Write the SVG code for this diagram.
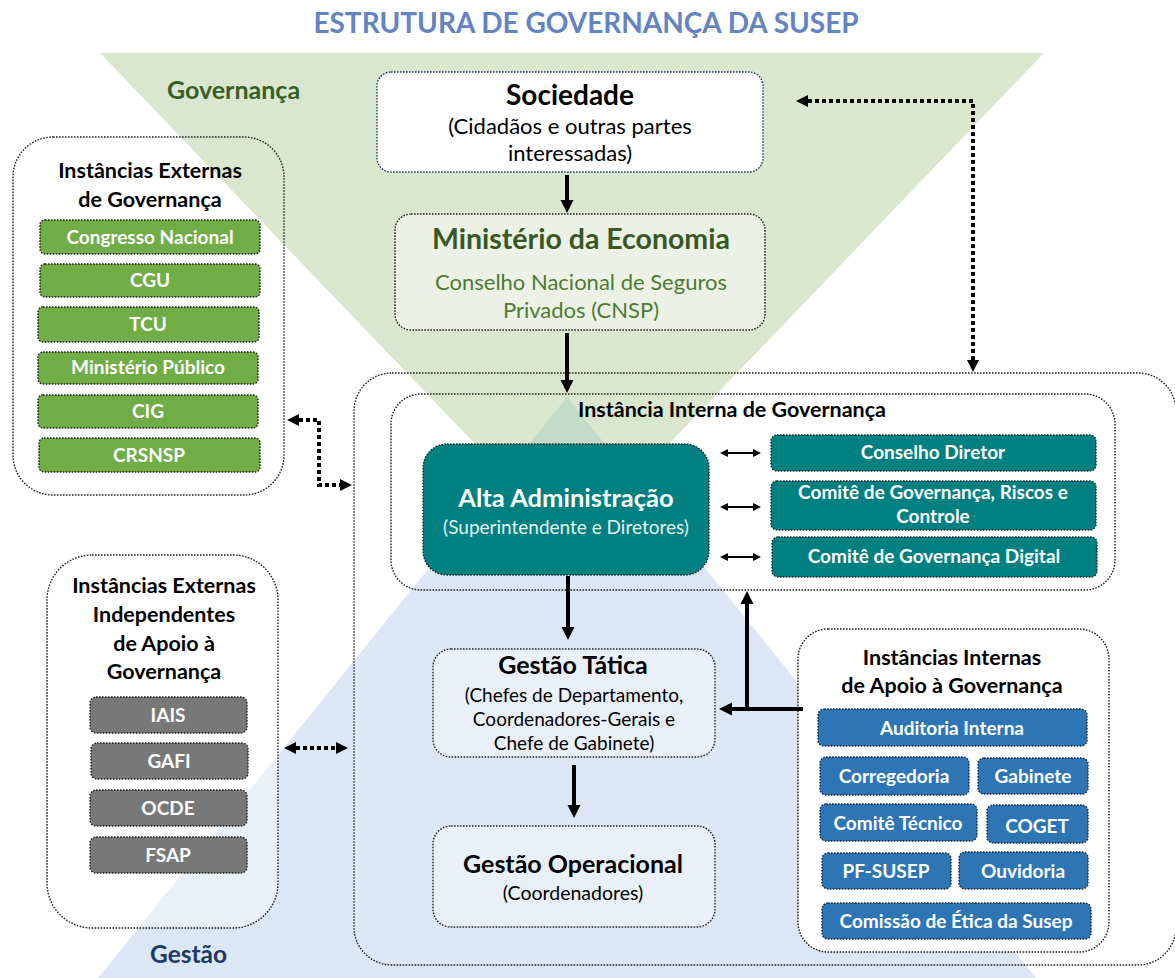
<svg xmlns="http://www.w3.org/2000/svg" width="1175" height="978" viewBox="0 0 1175 978">
<style>
  text { font-family: Lato, "Open Sans", "Liberation Sans", sans-serif; }
  .dot { fill: none; stroke: #222; stroke-width: 1.4; stroke-dasharray: 1.6 1.4; }
  .b { font-weight: bold; }
  .c { text-anchor: middle; }
  .w { fill: #ffffff; }
  .green { fill: #70ad47; stroke: #222; stroke-width: 1.4; stroke-dasharray: 1.6 1.4; }
  .gray { fill: #787878; stroke: #222; stroke-width: 1.4; stroke-dasharray: 1.6 1.4; }
  .blue { fill: #2e75b6; stroke: #1a2a40; stroke-width: 1.4; stroke-dasharray: 1.6 1.4; }
  .teal { fill: #008080; stroke: #1a2a2a; stroke-width: 1.4; stroke-dasharray: 1.6 1.4; }
  .thick { fill: none; stroke: #000; stroke-width: 4; }
  .thin { fill: none; stroke: #000; stroke-width: 2; }
  .dash { fill: none; stroke: #000; stroke-width: 4; stroke-dasharray: 4 3; }
  .h { font-size: 21.5px; font-weight: bold; fill: #000; text-anchor: middle; }
  .lbl { font-size: 19px; font-weight: bold; fill: #fff; text-anchor: middle; }
</style>
<defs>
  <marker id="aThick" viewBox="0 0 10 10" refX="0" refY="5" markerWidth="13" markerHeight="14" markerUnits="userSpaceOnUse" orient="auto-start-reverse">
    <path d="M0,0 L10,5 L0,10 z" fill="#000"/>
  </marker>
  <marker id="aThin" viewBox="0 0 10 10" refX="0" refY="5" markerWidth="9" markerHeight="8" markerUnits="userSpaceOnUse" orient="auto-start-reverse">
    <path d="M0,0 L10,5 L0,10 z" fill="#000"/>
  </marker>
  <marker id="aDash" viewBox="0 0 10 10" refX="0" refY="5" markerWidth="12" markerHeight="12" markerUnits="userSpaceOnUse" orient="auto-start-reverse">
    <path d="M0,0 L10,5 L0,10 z" fill="#000"/>
  </marker>
</defs>

<rect x="0" y="0" width="1175" height="978" fill="#ffffff"/>

<!-- background triangles -->
<g id="background">
  <polygon points="100,53 1044,53 572,545" fill="#d8e7cd"/>
  <polygon points="567,397 98,978 1036,978" fill="#dbe7f4"/>
  <polygon points="567,397 504,475 572,545 635,481" fill="#c3dcc7"/>
</g>

<text x="586" y="33" class="b c" font-size="28" fill="#6384c1">ESTRUTURA DE GOVERNANÇA DA SUSEP</text>
<text x="167" y="99" class="b" font-size="25" fill="#3a5e27">Governança</text>
<text x="150" y="963" class="b" font-size="24.5" fill="#203864">Gestão</text>

<!-- containers -->
<g id="instancia-interna-outer">
  <rect x="354" y="373" width="822" height="592" rx="38" class="dot"/>
</g>
<g id="instancia-interna">
  <rect x="391" y="394" width="724" height="196" rx="30" class="dot"/>
  <text x="578" y="417" font-size="21.5" class="b" fill="#000">Instância Interna de Governança</text>
</g>

<g id="sociedade">
  <rect x="377" y="72" width="386" height="100" rx="14" fill="#ffffff" stroke="#203864" stroke-width="1.4" stroke-dasharray="1.6 1.4"/>
  <text x="570" y="105" class="b c" font-size="28" fill="#000">Sociedade</text>
  <text x="570" y="134" class="c" font-size="22" fill="#000">(Cidadãos e outras partes</text>
  <text x="570" y="161" class="c" font-size="22" fill="#000">interessadas)</text>
</g>

<g id="ministerio">
  <rect x="395" y="214" width="370" height="116" rx="16" class="dot" style="fill:#ebf2e5"/>
  <text x="581" y="249" class="b c" font-size="28.5" fill="#385723">Ministério da Economia</text>
  <text x="581" y="290" class="c" font-size="22" fill="#4f7a32">Conselho Nacional de Seguros</text>
  <text x="581" y="318" class="c" font-size="22" fill="#4f7a32">Privados (CNSP)</text>
</g>

<g id="alta-administracao">
  <rect x="423" y="444" width="286" height="131" rx="24" class="teal"/>
  <text x="566" y="507" class="b c w" font-size="25.5">Alta Administração</text>
  <text x="566" y="534" class="c" font-size="19" fill="#e6f2f2">(Superintendente e Diretores)</text>
</g>

<g id="conselho-diretor">
  <rect x="771" y="435" width="325" height="36" rx="6" class="teal"/>
  <text x="933" y="459" class="lbl">Conselho Diretor</text>
</g>
<g id="comite-grc">
  <rect x="771" y="481" width="325" height="49" rx="6" class="teal"/>
  <text x="933" y="499" class="lbl">Comitê de Governança, Riscos e</text>
  <text x="933" y="523" class="lbl">Controle</text>
</g>
<g id="comite-digital">
  <rect x="772" y="537" width="325" height="40" rx="6" class="teal"/>
  <text x="934" y="563" class="lbl">Comitê de Governança Digital</text>
</g>

<g id="gestao-tatica">
  <rect x="433" y="649" width="282" height="108" rx="18" class="dot" style="fill:#e9f0f9"/>
  <text x="573" y="674" class="b c" font-size="25" fill="#000">Gestão Tática</text>
  <text x="574" y="702" class="c" font-size="19" fill="#000">(Chefes de Departamento,</text>
  <text x="574" y="726" class="c" font-size="19" fill="#000">Coordenadores-Gerais e</text>
  <text x="574" y="750" class="c" font-size="19" fill="#000">Chefe de Gabinete)</text>
</g>

<g id="gestao-operacional">
  <rect x="433" y="826" width="282" height="101" rx="18" class="dot" style="fill:#e9f0f9"/>
  <text x="573" y="873" class="b c" font-size="25" fill="#000">Gestão Operacional</text>
  <text x="573" y="900" class="c" font-size="19.5" fill="#000">(Coordenadores)</text>
</g>

<g id="instancias-internas-apoio">
  <rect x="798" y="629" width="311" height="323" rx="30" class="dot" style="fill:#ffffff"/>
  <text x="952" y="665" class="h">Instâncias Internas</text>
  <text x="952" y="693" class="h">de Apoio à Governança</text>
</g>
<g id="auditoria-interna">
  <rect x="818" y="709" width="269" height="37" rx="6" class="blue"/>
  <text x="952" y="735" class="lbl">Auditoria Interna</text>
</g>
<g id="corregedoria">
  <rect x="820" y="757" width="149" height="38" rx="6" class="blue"/>
  <text x="894" y="783" class="lbl">Corregedoria</text>
</g>
<g id="gabinete">
  <rect x="978" y="758" width="110" height="36" rx="6" class="blue"/>
  <text x="1033" y="783" class="lbl">Gabinete</text>
</g>
<g id="comite-tecnico">
  <rect x="820" y="804" width="157" height="37" rx="6" class="blue"/>
  <text x="898" y="830" class="lbl">Comitê Técnico</text>
</g>
<g id="coget">
  <rect x="987" y="805" width="101" height="38" rx="6" class="blue"/>
  <text x="1037" y="833" class="lbl">COGET</text>
</g>
<g id="pf-susep">
  <rect x="822" y="853" width="129" height="36" rx="6" class="blue"/>
  <text x="886" y="878" class="lbl">PF-SUSEP</text>
</g>
<g id="ouvidoria">
  <rect x="959" y="852" width="129" height="37" rx="6" class="blue"/>
  <text x="1023" y="878" class="lbl">Ouvidoria</text>
</g>
<g id="comissao-etica">
  <rect x="822" y="903" width="269" height="36" rx="6" class="blue"/>
  <text x="956" y="928" class="lbl">Comissão de Ética da Susep</text>
</g>

<g id="instancias-externas">
  <rect x="13" y="137" width="271" height="358" rx="40" class="dot"/>
  <text x="150" y="178" class="h">Instâncias Externas</text>
  <text x="150" y="207" class="h">de Governança</text>
</g>
<g id="congresso-nacional">
  <rect x="40" y="220" width="220" height="34" rx="5" class="green"/>
  <text x="150" y="244" class="lbl">Congresso Nacional</text>
</g>
<g id="cgu">
  <rect x="40" y="264" width="220" height="33" rx="5" class="green"/>
  <text x="150" y="287" class="lbl">CGU</text>
</g>
<g id="tcu">
  <rect x="38" y="307" width="221" height="35" rx="5" class="green"/>
  <text x="148" y="331" class="lbl">TCU</text>
</g>
<g id="ministerio-publico">
  <rect x="38" y="352" width="220" height="32" rx="5" class="green"/>
  <text x="148" y="374" class="lbl">Ministério Público</text>
</g>
<g id="cig">
  <rect x="38" y="395" width="220" height="33" rx="5" class="green"/>
  <text x="148" y="418" class="lbl">CIG</text>
</g>
<g id="crsnsp">
  <rect x="39" y="438" width="221" height="34" rx="5" class="green"/>
  <text x="149" y="462" class="lbl">CRSNSP</text>
</g>

<g id="instancias-externas-independentes">
  <rect x="47" y="555" width="231" height="373" rx="45" class="dot" style="fill:#ffffff;fill-opacity:0.4"/>
  <text x="164" y="593" class="h">Instâncias Externas</text>
  <text x="164" y="622" class="h">Independentes</text>
  <text x="164" y="651" class="h">de Apoio à</text>
  <text x="164" y="679" class="h">Governança</text>
</g>
<g id="iais">
  <rect x="90" y="697" width="157" height="36" rx="6" class="gray"/>
  <text x="168" y="722" class="lbl">IAIS</text>
</g>
<g id="gafi">
  <rect x="91" y="743" width="157" height="36" rx="6" class="gray"/>
  <text x="169" y="768" class="lbl">GAFI</text>
</g>
<g id="ocde">
  <rect x="90" y="790" width="157" height="36" rx="6" class="gray"/>
  <text x="168" y="815" class="lbl">OCDE</text>
</g>
<g id="fsap">
  <rect x="90" y="837" width="157" height="36" rx="6" class="gray"/>
  <text x="168" y="862" class="lbl">FSAP</text>
</g>

<!-- connectors -->
<g id="connectors">
  <line x1="567" y1="175" x2="567" y2="200" class="thick" marker-end="url(#aThick)"/>
  <line x1="567" y1="333" x2="567" y2="380" class="thick" marker-end="url(#aThick)"/>
  <line x1="568" y1="576" x2="568" y2="627" class="thick" marker-end="url(#aThick)"/>
  <line x1="574" y1="765" x2="574" y2="805" class="thick" marker-end="url(#aThick)"/>
  <line x1="803" y1="709" x2="732" y2="709" class="thick" marker-end="url(#aThick)"/>
  <line x1="747" y1="711" x2="747" y2="604" class="thick" marker-end="url(#aThick)"/>
  <line x1="728" y1="453" x2="753" y2="453" class="thin" marker-start="url(#aThin)" marker-end="url(#aThin)"/>
  <line x1="728" y1="507" x2="753" y2="507" class="thin" marker-start="url(#aThin)" marker-end="url(#aThin)"/>
  <line x1="728" y1="557" x2="753" y2="557" class="thin" marker-start="url(#aThin)" marker-end="url(#aThin)"/>
  <path d="M808,101 L973,101 L973,360" class="dash" marker-start="url(#aDash)" marker-end="url(#aDash)"/>
  <path d="M299,420 L319,420 L319,485 L340,485" class="dash" marker-start="url(#aDash)" marker-end="url(#aDash)"/>
  <line x1="296" y1="748" x2="336" y2="748" class="dash" marker-start="url(#aDash)" marker-end="url(#aDash)"/>
</g>
</svg>
